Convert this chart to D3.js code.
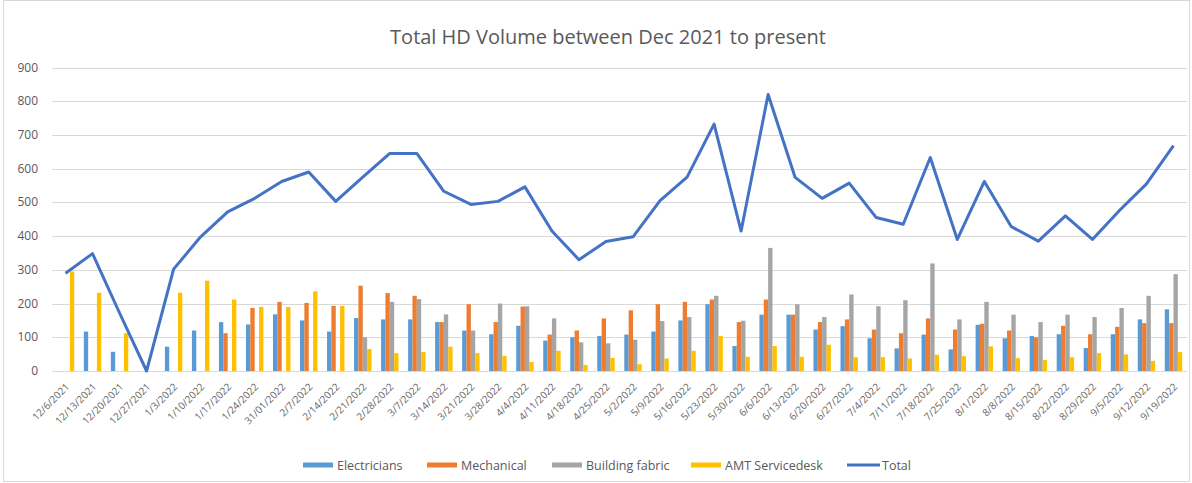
<!DOCTYPE html>
<html>
<head>
<meta charset="utf-8">
<script src="https://cdn.jsdelivr.net/npm/d3@7"></script>
<style>
  body { margin: 0; background: #fff; }
  text { font-family: "Open Sans", "Noto Sans", sans-serif; fill: #595959; }
</style>
</head>
<body>
<svg id="chart" width="1192" height="483"></svg>
<script>
// weeks on the x axis
const weeks = ['12/6/2021','12/13/2021','12/20/2021','12/27/2021','1/3/2022','1/10/2022','1/17/2022',
  '1/24/2022','31/01/2022','2/7/2022','2/14/2022','2/21/2022','2/28/2022','3/7/2022','3/14/2022',
  '3/21/2022','3/28/2022','4/4/2022','4/11/2022','4/18/2022','4/25/2022','5/2/2022','5/9/2022',
  '5/16/2022','5/23/2022','5/30/2022','6/6/2022','6/13/2022','6/20/2022','6/27/2022','7/4/2022',
  '7/11/2022','7/18/2022','7/25/2022','8/1/2022','8/8/2022','8/15/2022','8/22/2022','8/29/2022',
  '9/5/2022','9/12/2022','9/19/2022'];

const electricians = [0,117,57,0,72,120,145,138,168,150,117,157,153,153,145,120,109,134,90,100,104,
  108,117,150,198,74,167,167,123,133,97,67,108,64,137,97,104,109,68,109,153,183];
const mechanical = [0,0,0,0,0,0,112,187,205,202,193,253,231,223,145,198,145,191,108,120,156,
  180,198,205,212,145,212,167,145,153,123,112,156,123,140,120,100,134,109,131,142,142];
const buildingFabric = [0,0,0,0,0,0,0,0,0,0,0,100,205,213,168,120,200,192,156,85,82,
  93,148,160,223,149,365,198,160,227,192,210,319,153,205,167,145,167,160,187,223,287];
const amtServicedesk = [295,232,112,0,232,268,212,190,190,236,193,65,53,56,72,53,45,27,60,18,39,
  20,37,60,104,42,74,42,78,41,41,37,48,44,73,38,33,41,53,49,30,56];
const total = [290,348,172,0,302,398,472,512,562,590,503,575,645,645,533,494,503,546,415,330,384,
  398,505,575,732,415,820,574,512,557,455,435,633,390,562,428,385,460,390,476,555,668];

const yTicks = [0,100,200,300,400,500,600,700,800,900];

const seriesNames = ['Electricians','Mechanical','Building fabric','AMT Servicedesk'];
const seriesData = [electricians, mechanical, buildingFabric, amtServicedesk];
const colors = ['#5B9BD5','#ED7D31','#A5A5A5','#FFC000'];
const lineColor = '#4472C4';

const svg = d3.select('#chart');

// frame
svg.append('rect')
  .attr('x', 3.5).attr('y', 0.5)
  .attr('width', 1186).attr('height', 481)
  .attr('fill', 'none')
  .attr('stroke', '#d9d9d9');

const x = d3.scaleBand()
  .domain(weeks)
  .range([52, 1187])
  .paddingInner(0.355)
  .paddingOuter(0.1775);

const xs = d3.scaleBand()
  .domain(seriesNames)
  .range([0, x.bandwidth()]);

const y = d3.scaleLinear()
  .domain([0, 900])
  .range([371, 67.5]);

// title
svg.append('text')
  .attr('x', 608)
  .attr('y', 44)
  .attr('text-anchor', 'middle')
  .style('font-size', '20px')
  .text('Total HD Volume between Dec 2021 to present');

// grid
svg.append('g')
  .selectAll('line')
  .data(yTicks)
  .enter().append('line')
    .attr('x1', 52).attr('x2', 1187)
    .attr('y1', d => Math.round(y(d)) + 0.5)
    .attr('y2', d => Math.round(y(d)) + 0.5)
    .attr('stroke', '#d9d9d9')
    .attr('stroke-width', 1);

// y labels
svg.append('g')
  .selectAll('text')
  .data(yTicks)
  .enter().append('text')
    .attr('x', 38)
    .attr('y', d => y(d) + 4)
    .attr('text-anchor', 'end')
    .style('font-size', '12px')
    .text(d => d);

// bars
seriesNames.forEach((name, i) => {
  svg.append('g')
    .selectAll('rect')
    .data(seriesData[i])
    .enter().append('rect')
      .attr('x', (d, j) => x(weeks[j]) + xs(name))
      .attr('y', d => y(d))
      .attr('width', xs.bandwidth())
      .attr('height', d => y(0) - y(d))
      .attr('fill', colors[i]);
});

// total line
const line = d3.line()
  .x((d, i) => x(weeks[i]) + x.bandwidth() / 2)
  .y(d => y(d));

svg.append('path')
  .datum(total)
  .attr('d', line)
  .attr('fill', 'none')
  .attr('stroke', lineColor)
  .attr('stroke-width', 3)
  .attr('stroke-linejoin', 'round');

// x labels
svg.append('g')
  .selectAll('text')
  .data(weeks)
  .enter().append('text')
    .attr('transform', d => `translate(${x(d) + x.bandwidth() / 2 + 2},${385}) rotate(-45)`)
    .attr('text-anchor', 'end')
    .attr('dy', '0.35em')
    .style('font-size', '10px')
    .style('fill', '#666')
    .text(d => d);

// legend
const legendItems = [
  {name: 'Electricians', color: colors[0], x: 303},
  {name: 'Mechanical', color: colors[1], x: 427},
  {name: 'Building fabric', color: colors[2], x: 552},
  {name: 'AMT Servicedesk', color: colors[3], x: 691},
  {name: 'Total', color: lineColor, x: 847, isLine: true}
];

const legend = svg.append('g');
legendItems.forEach(it => {
  if (it.isLine) {
    legend.append('line')
      .attr('x1', it.x).attr('x2', it.x + 33)
      .attr('y1', 465).attr('y2', 465)
      .attr('stroke', it.color)
      .attr('stroke-width', 3);
  } else {
    legend.append('rect')
      .attr('x', it.x).attr('y', 462.5)
      .attr('width', 30).attr('height', 5)
      .attr('fill', it.color);
  }
  legend.append('text')
    .attr('x', it.x + (it.isLine ? 35 : 34))
    .attr('y', 469.5)
    .style('font-size', '12.5px')
    .text(it.name);
});
</script>
</body>
</html>
